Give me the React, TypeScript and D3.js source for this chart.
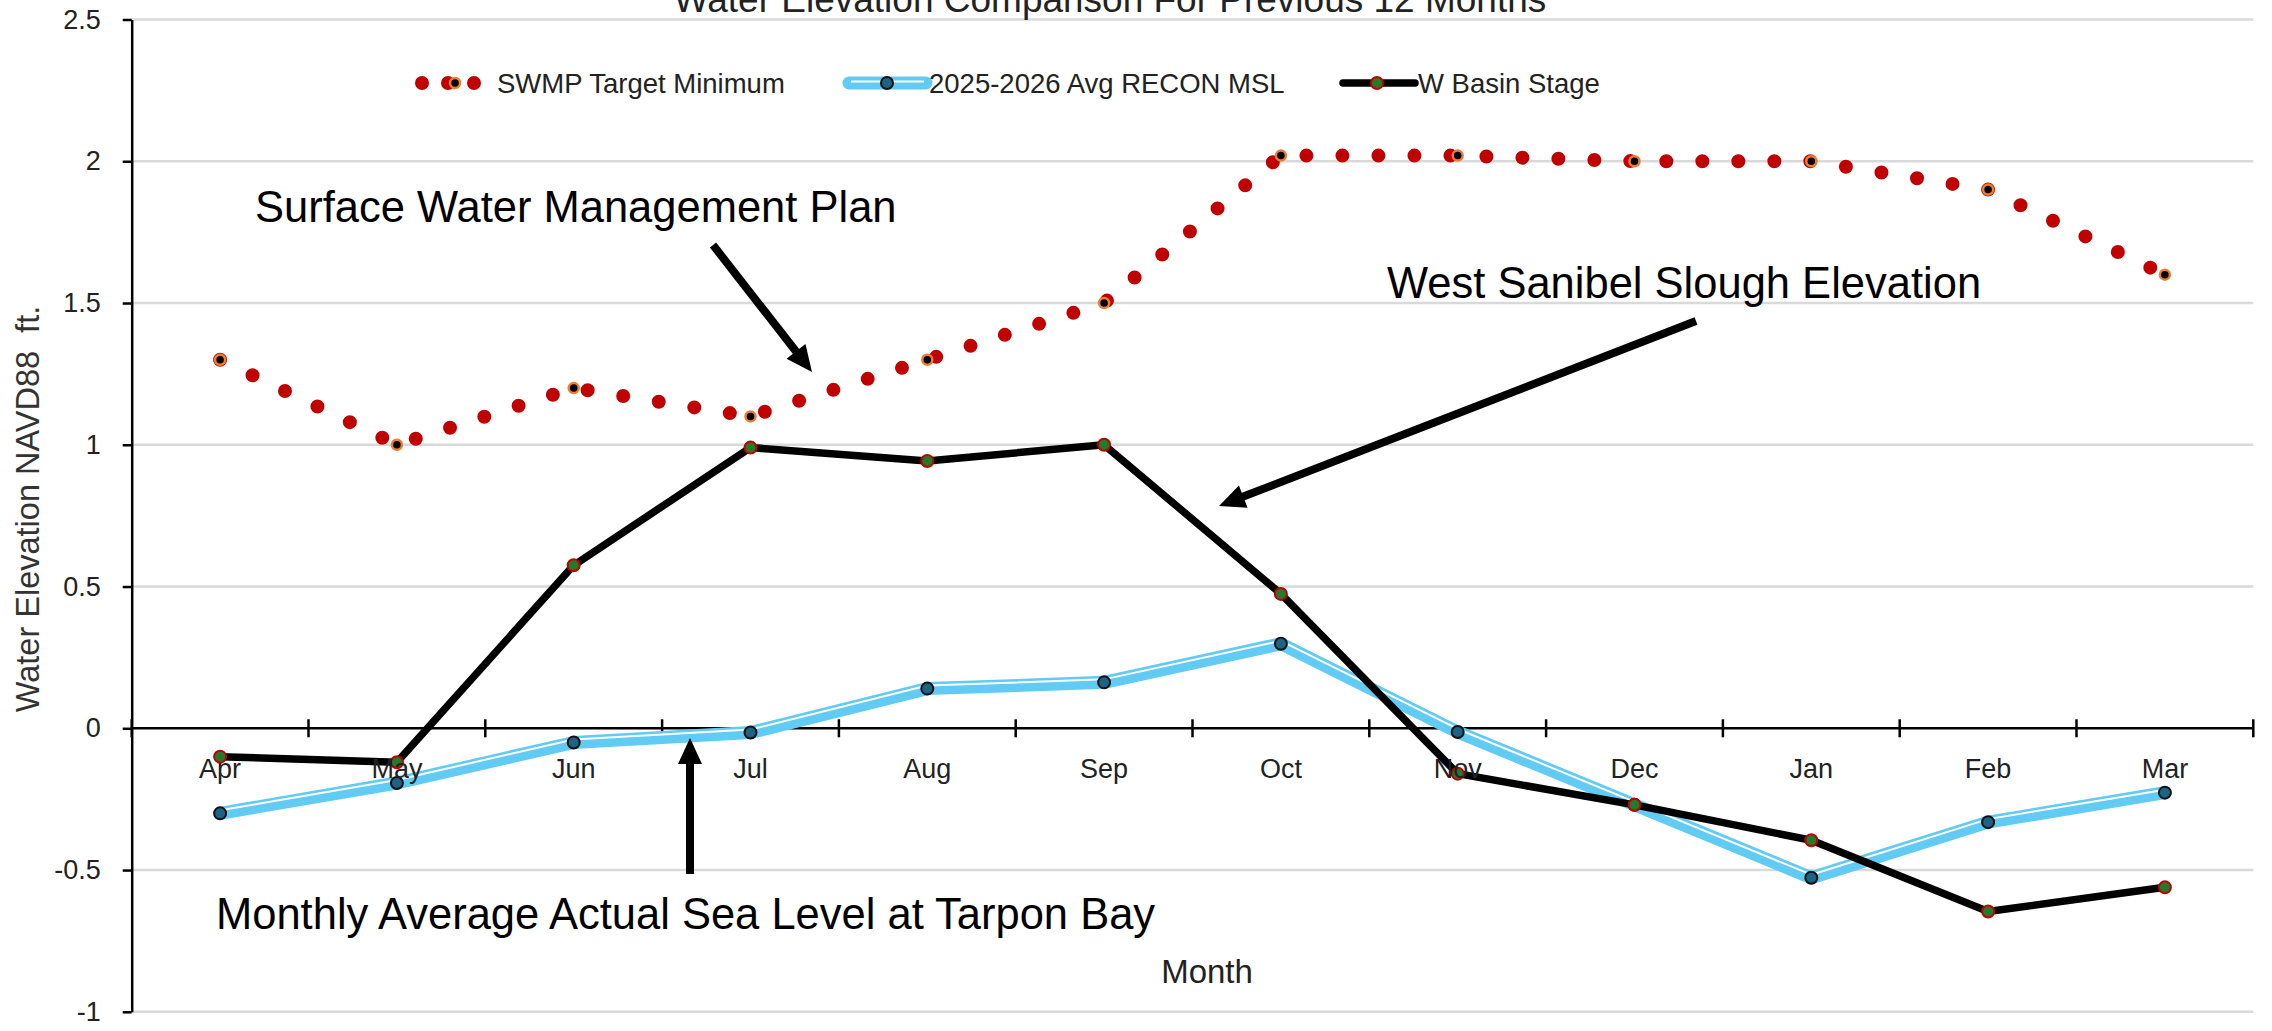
import { useEffect, useRef } from 'react';
import * as d3 from 'd3';

// chart data
const months = ['Apr', 'May', 'Jun', 'Jul', 'Aug', 'Sep', 'Oct', 'Nov', 'Dec', 'Jan', 'Feb', 'Mar'];
const swmpTarget = [1.3, 1.0, 1.2, 1.1, 1.3, 1.5, 2.02, 2.02, 2.0, 2.0, 1.9, 1.6];
const reconMsl = [-0.3, -0.193, -0.05, -0.015, 0.14, 0.162, 0.298, -0.013, -0.27, -0.527, -0.331, -0.227];
const basinStage = [-0.1, -0.12, 0.575, 0.99, 0.943, 1.0, 0.474, -0.16, -0.27, -0.395, -0.646, -0.561];
const yTicks = [-1, -0.5, 0, 0.5, 1, 1.5, 2, 2.5];

const seriesNames = ['SWMP Target Minimum', '2025-2026 Avg RECON MSL', 'W Basin Stage'];
const chartTitle = 'Water Elevation Comparison For Previous 12 Months';
const yTitle = 'Water Elevation NAVD88  ft.';
const xTitle = 'Month';

const notes = [
  { text: 'Surface Water Management Plan', x: 255, y: 222, arrow: [713, 245, 812, 372] },
  { text: 'West Sanibel Slough Elevation', x: 1387, y: 298, arrow: [1696, 321, 1219, 506] },
  { text: 'Monthly Average Actual Sea Level at Tarpon Bay', x: 216, y: 929, arrow: [690, 874, 690, 738] },
];

const W = 2272;
const H = 1031;
const plot = { left: 131.7, right: 2253.3, top: 19.5, bottom: 1011.8 };
const FONT = '"Liberation Sans", Arial, Helvetica, sans-serif';

const RED = '#c00000';
const BLUE = '#61cbf3';
const BLUE_MARK = '#1d6386';
const GREEN = '#237a2a';
const ORANGE = '#ed7d31';

export default function App() {
  const svgRef = useRef<SVGSVGElement>(null);

  useEffect(() => {
    if (!svgRef.current) return;
    const svg = d3.select(svgRef.current);
    svg.selectAll('*').remove();

    svg.append('rect').attr('width', W).attr('height', H).attr('fill', '#fff');

    const x = d3.scaleBand<string>().domain(months).range([plot.left, plot.right]);
    const cx = (m: string) => (x(m) as number) + x.bandwidth() / 2;
    const y = d3.scaleLinear().domain([-1, 2.5]).range([plot.bottom, plot.top]);

    // gridlines
    svg.append('g')
      .selectAll('line')
      .data(yTicks.filter(v => v !== 0))
      .join('line')
      .attr('x1', plot.left)
      .attr('x2', plot.right)
      .attr('y1', d => y(d))
      .attr('y2', d => y(d))
      .attr('stroke', '#d9d9d9')
      .attr('stroke-width', 2.5);

    // y axis
    const yAxis = svg.append('g')
      .attr('transform', `translate(${plot.left},0)`)
      .call(d3.axisLeft(y).tickValues(yTicks).tickSize(9).tickSizeOuter(0).tickPadding(22).tickFormat(d => String(d)));
    yAxis.select('.domain').attr('stroke', '#000').attr('stroke-width', 2.5);
    yAxis.selectAll('.tick line').attr('stroke', '#000').attr('stroke-width', 2.5);
    yAxis.selectAll('.tick text')
      .attr('font-family', FONT)
      .attr('font-size', 27)
      .attr('fill', '#222');

    // x axis on the zero line, ticks crossing at the band edges
    const y0 = y(0);
    svg.append('line')
      .attr('x1', plot.left).attr('x2', plot.right)
      .attr('y1', y0).attr('y2', y0)
      .attr('stroke', '#000').attr('stroke-width', 2.5);
    const edges = months.map(m => x(m) as number).concat([plot.right]);
    svg.append('g')
      .selectAll('line')
      .data(edges)
      .join('line')
      .attr('x1', d => d).attr('x2', d => d)
      .attr('y1', y0 - 9).attr('y2', y0 + 9)
      .attr('stroke', '#000').attr('stroke-width', 2.5);

    // SWMP target, red round dots
    const line = d3.line<number>()
      .x((_, i) => cx(months[i]))
      .y(d => y(d));

    svg.append('path')
      .attr('d', line(swmpTarget))
      .attr('fill', 'none')
      .attr('stroke', RED)
      .attr('stroke-width', 14)
      .attr('stroke-linecap', 'round')
      .attr('stroke-dasharray', '0 36');
    svg.append('g')
      .selectAll('circle')
      .data(swmpTarget)
      .join('circle')
      .attr('cx', (_, i) => cx(months[i]))
      .attr('cy', d => y(d))
      .attr('r', 5)
      .attr('fill', '#000')
      .attr('stroke', ORANGE)
      .attr('stroke-width', 2.5);

    // RECON MSL, thick light blue with a thin white stripe
    svg.append('path')
      .attr('d', line(reconMsl))
      .attr('fill', 'none')
      .attr('stroke', BLUE)
      .attr('stroke-width', 13)
      .attr('stroke-linejoin', 'round');
    svg.append('path')
      .attr('d', line(reconMsl))
      .attr('transform', 'translate(0,-3)')
      .attr('fill', 'none')
      .attr('stroke', '#fff')
      .attr('stroke-width', 2)
      .attr('stroke-linejoin', 'round');
    svg.append('g')
      .selectAll('circle')
      .data(reconMsl)
      .join('circle')
      .attr('cx', (_, i) => cx(months[i]))
      .attr('cy', d => y(d))
      .attr('r', 6)
      .attr('fill', BLUE_MARK)
      .attr('stroke', '#111')
      .attr('stroke-width', 2);

    // W Basin stage, black
    svg.append('path')
      .attr('d', line(basinStage))
      .attr('fill', 'none')
      .attr('stroke', '#000')
      .attr('stroke-width', 7.5)
      .attr('stroke-linejoin', 'round');
    svg.append('g')
      .selectAll('circle')
      .data(basinStage)
      .join('circle')
      .attr('cx', (_, i) => cx(months[i]))
      .attr('cy', d => y(d))
      .attr('r', 6)
      .attr('fill', GREEN)
      .attr('stroke', RED)
      .attr('stroke-width', 2);

    // month labels (drawn after the lines, like the original)
    svg.append('g')
      .selectAll('text')
      .data(months)
      .join('text')
      .attr('x', d => cx(d))
      .attr('y', y0 + 50)
      .attr('text-anchor', 'middle')
      .attr('font-family', FONT)
      .attr('font-size', 27)
      .attr('fill', '#222')
      .text(d => d);

    // legend
    const ly = 83;
    const leg = svg.append('g');
    leg.append('path')
      .attr('d', `M422,${ly}H474.5`)
      .attr('stroke', RED).attr('stroke-width', 14)
      .attr('stroke-linecap', 'round').attr('stroke-dasharray', '0 26');
    leg.append('circle').attr('cx', 455).attr('cy', ly).attr('r', 5)
      .attr('fill', '#000').attr('stroke', ORANGE).attr('stroke-width', 2.5);

    leg.append('line').attr('x1', 849).attr('x2', 926).attr('y1', ly).attr('y2', ly)
      .attr('stroke', BLUE).attr('stroke-width', 13).attr('stroke-linecap', 'round');
    leg.append('line').attr('x1', 851).attr('x2', 924).attr('y1', ly - 1.5).attr('y2', ly - 1.5)
      .attr('stroke', '#fff').attr('stroke-width', 2);
    leg.append('circle').attr('cx', 887).attr('cy', ly).attr('r', 6)
      .attr('fill', BLUE_MARK).attr('stroke', '#111').attr('stroke-width', 2);

    leg.append('line').attr('x1', 1343).attr('x2', 1415).attr('y1', ly).attr('y2', ly)
      .attr('stroke', '#000').attr('stroke-width', 7.5).attr('stroke-linecap', 'round');
    leg.append('circle').attr('cx', 1377).attr('cy', ly).attr('r', 6)
      .attr('fill', GREEN).attr('stroke', RED).attr('stroke-width', 2);

    [497, 929, 1418].forEach((lx, i) => {
      leg.append('text')
        .attr('x', lx).attr('y', ly + 10)
        .attr('font-family', FONT).attr('font-size', 27.5).attr('fill', '#222')
        .text(seriesNames[i]);
    });

    // titles
    svg.append('text')
      .attr('x', 1110).attr('y', 12)
      .attr('text-anchor', 'middle')
      .attr('font-family', FONT).attr('font-size', 37).attr('fill', '#222')
      .text(chartTitle);

    svg.append('text')
      .attr('transform', 'translate(39,509) rotate(-90)')
      .attr('text-anchor', 'middle')
      .attr('font-family', FONT).attr('font-size', 32.5).attr('fill', '#333')
      .style('white-space', 'pre')
      .text(yTitle);

    svg.append('text')
      .attr('x', 1207).attr('y', 983)
      .attr('text-anchor', 'middle')
      .attr('font-family', FONT).attr('font-size', 33).attr('fill', '#222')
      .text(xTitle);

    // annotations with arrows
    notes.forEach(n => {
      svg.append('text')
        .attr('x', n.x).attr('y', n.y)
        .attr('font-family', FONT).attr('font-size', 43.5).attr('fill', '#000')
        .text(n.text);

      const [x1, y1, x2, y2] = n.arrow;
      const len = Math.hypot(x2 - x1, y2 - y1);
      const ux = (x2 - x1) / len;
      const uy = (y2 - y1) / len;
      const headL = 26;
      const headW = 12;
      const bx = x2 - ux * headL;
      const by = y2 - uy * headL;
      svg.append('line')
        .attr('x1', x1).attr('y1', y1).attr('x2', bx + ux * 2).attr('y2', by + uy * 2)
        .attr('stroke', '#000').attr('stroke-width', 8);
      svg.append('polygon')
        .attr('points', [
          [x2, y2],
          [bx - uy * headW, by + ux * headW],
          [bx + uy * headW, by - ux * headW],
        ].map(p => p.join(',')).join(' '))
        .attr('fill', '#000');
    });
  }, []);

  return (
    <div style={{ position: 'absolute', left: 0, top: 0 }}>
      <svg ref={svgRef} width={W} height={H} style={{ display: 'block' }} />
    </div>
  );
}
